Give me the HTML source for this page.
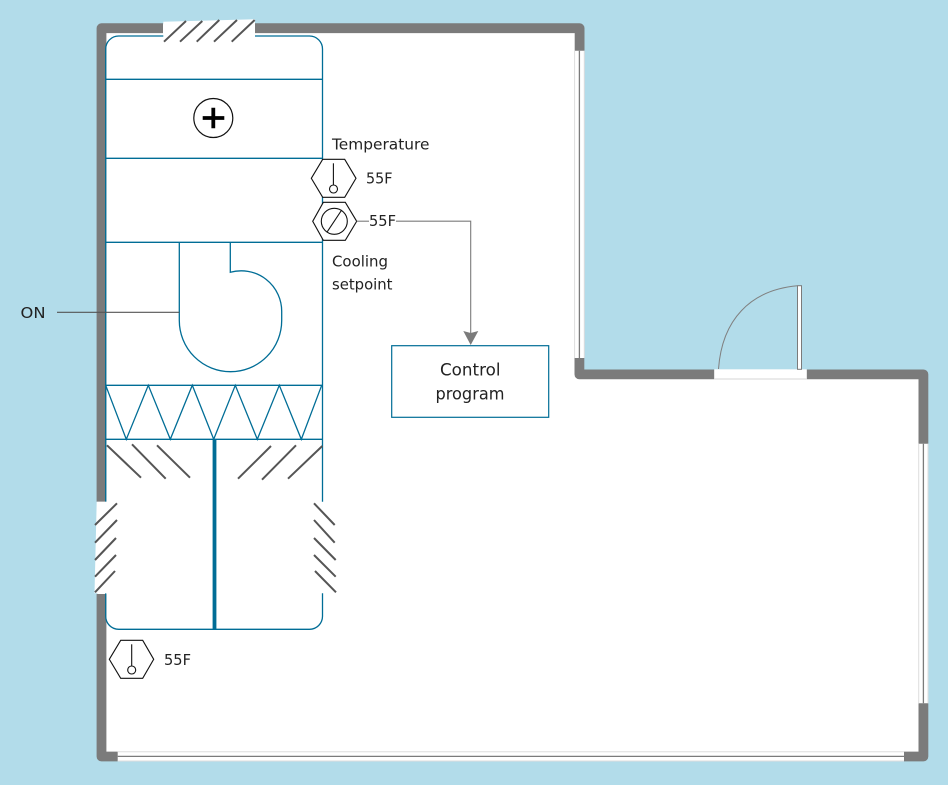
<!DOCTYPE html>
<html>
<head>
<meta charset="utf-8">
<style>
html,body{margin:0;padding:0;background:#b2dcea;}
svg{display:block;}
text{font-family:"DejaVu Sans",sans-serif;fill:#222;}
</style>
</head>
<body>
<svg width="948" height="785" viewBox="0 0 948 785" xmlns="http://www.w3.org/2000/svg">
<rect width="948" height="785" fill="#b2dcea"/>
<!-- room -->
<path d="M97.5 29 Q97.5 24.2 102 24.2 H579 Q584 24.2 584 29 V369.8 H923 Q927.8 369.8 927.8 375 V756 Q927.8 761 923 761 H102 Q97.5 761 97.5 756 Z" fill="#fff"/>
<!-- walls -->
<g fill="none" stroke="#7b7b7b" stroke-width="9.8" stroke-linejoin="round">
<path d="M101.5 594 V756.5 H117.7"/>
<path d="M101.5 501.7 V28.2 H163"/>
<path d="M255 28.2 H579.6 V50.7"/>
<path d="M579.4 358 V374.4 H714.3"/>
<path d="M806.7 374.4 H923.4 V443.7"/>
<path d="M923.4 703.3 V756.5 H904"/>
</g>
<!-- windows -->
<g fill="none">
<path d="M574.6 50.7V358M584.3 50.7V358" stroke="#ddd" stroke-width="1"/>
<path d="M579.4 50.7V358" stroke="#7b7b7b" stroke-width="1.3"/>
<path d="M918.7 443.7V703.3M928 443.7V703.3" stroke="#ddd" stroke-width="1"/>
<path d="M923.4 443.7V703.3" stroke="#7b7b7b" stroke-width="1.3"/>
<path d="M117.7 751.8H904M117.7 761H904" stroke="#ddd" stroke-width="1"/>
<path d="M117.7 756.4H904" stroke="#7b7b7b" stroke-width="1.3"/>
</g>
<!-- door -->
<rect x="714.3" y="369.3" width="92.4" height="10" fill="#fff"/>
<path d="M714.3 379H806.7" stroke="#d5d5d5" stroke-width="1"/>
<rect x="797.5" y="285.7" width="4" height="83.6" fill="#fff" stroke="#7b7b7b" stroke-width="1"/>
<path d="M718.5 369 C722 320 750 290 797.5 285.8" fill="none" stroke="#808080" stroke-width="1"/>
<!-- AHU outline -->
<g fill="none" stroke="#006d96" stroke-width="1.3">
<path d="M322.5 501.7 V49 A13 13 0 0 0 309.5 36 H118.7 A13 13 0 0 0 105.7 49 V501.7"/>
<path d="M105.7 593.3 V616.3 A13 13 0 0 0 118.7 629.3 H309.5 A13 13 0 0 0 322.5 616.3 V593.3"/>
<path d="M105.7 79.3H322.5M105.7 158.3H322.5M105.7 242.3H322.5M105.7 385.3H322.5M105.7 439.3H322.5"/>
<path d="M179.3 242.3 V320.5 A51.2 51.2 0 0 0 281.7 320.5 V312 A40.5 40.5 0 0 0 230.3 272.3 V242.3"/>
<path d="M105.7 385.3L126.3 439.3L148.3 385.3L170.3 439.3L192.3 385.3L213.7 439.3L235.3 385.3L257.3 439.3L279.3 385.3L301.3 439.3L321.7 385.3"/>
</g>
<rect x="212.6" y="439.3" width="3.8" height="190" fill="#006d96"/>
<!-- top damper gap -->
<path d="M163.3 21.7 L255 19.3 V42 H163.3 Z" fill="#fff"/>
<!-- left damper gap -->
<path d="M96.7 501.7 H106.5 V593.3 H94.5 Z" fill="#fff"/>
<!-- hatches -->
<g stroke="#555" stroke-width="2" fill="none">
<path d="M164 41.7L186 21M180 41.7L202.3 21M196.7 41.7L219.3 20M214 41.7L237 20M231.7 41.7L254.7 20"/>
<path d="M95 525L117 503.3M95 542.7L117 520M95 560L116 538M95 576.7L116 555M95 592.3L115 571"/>
<path d="M314 503.3L334.7 525M314 520L334.7 542.7M314 538L335.7 560M314 555L335.7 576.7M315 571L336 592.3"/>
<path d="M107 445.3L141 477.7M132 444.3L165.7 478.7M157 445.3L190 477.7"/>
<path d="M238 478.7L271 446M262 479.7L296 445.3M288 478.7L322.3 446"/>
</g>
<!-- heater -->
<circle cx="213.3" cy="118" r="19.5" fill="#fff" stroke="#111" stroke-width="1.2"/>
<path d="M202.7 118H224.3M213.3 107.7V128.3" stroke="#000" stroke-width="3.8" fill="none"/>
<!-- sensors -->
<g fill="#fff" stroke="#111" stroke-width="1.1">
<path d="M311.3 178.3L322.7 159.3H344.7L356 178.3L344.7 197.3H322.7Z"/>
<path d="M333.4 163.3V185" fill="none"/>
<circle cx="333.5" cy="189" r="4"/>
<path d="M312.7 221.3L323.3 202.3H345.3L356.7 221.3L345.3 240.3H323.3Z"/>
<circle cx="334.3" cy="221.3" r="13"/>
<path d="M327.3 231.7L341.7 210" fill="none"/>
<path d="M109.3 659.3L120.7 640.3H142.7L153.7 659.3L142.7 678.3H120.7Z"/>
<path d="M131.7 644.3V666" fill="none"/>
<circle cx="131.7" cy="670" r="4"/>
</g>
<!-- connectors -->
<g fill="none" stroke="#7b7b7b" stroke-width="1.1">
<path d="M356.7 221.2H369"/>
<path d="M396 221.2H470.7V335"/>
</g>
<path d="M463.3 331L470.7 333L478.3 331L470.7 345Z" fill="#7b7b7b"/>
<path d="M57 312.3H179.3" stroke="#555" stroke-width="1.1" fill="none"/>
<!-- control box -->
<rect x="391.7" y="345.7" width="157" height="71.6" fill="#fff" stroke="#006d96" stroke-width="1.2"/>
<!-- labels -->
<g font-size="15">
<text x="332" y="149.3" textLength="97.5" lengthAdjust="spacingAndGlyphs">Temperature</text>
<text x="366" y="183.3" textLength="26.5" lengthAdjust="spacingAndGlyphs">55F</text>
<text x="369" y="226" textLength="27" lengthAdjust="spacingAndGlyphs">55F</text>
<text x="332" y="266.5" textLength="56" lengthAdjust="spacingAndGlyphs">Cooling</text>
<text x="332" y="289.3" textLength="60.5" lengthAdjust="spacingAndGlyphs">setpoint</text>
<text x="164" y="665" textLength="27" lengthAdjust="spacingAndGlyphs">55F</text>
<text x="20.5" y="318" textLength="25" lengthAdjust="spacingAndGlyphs">ON</text>
</g>
<g font-size="17">
<text x="440" y="375.7" textLength="60.5" lengthAdjust="spacingAndGlyphs">Control</text>
<text x="435.5" y="399.3" textLength="69" lengthAdjust="spacingAndGlyphs">program</text>
</g>
</svg>
</body>
</html>
